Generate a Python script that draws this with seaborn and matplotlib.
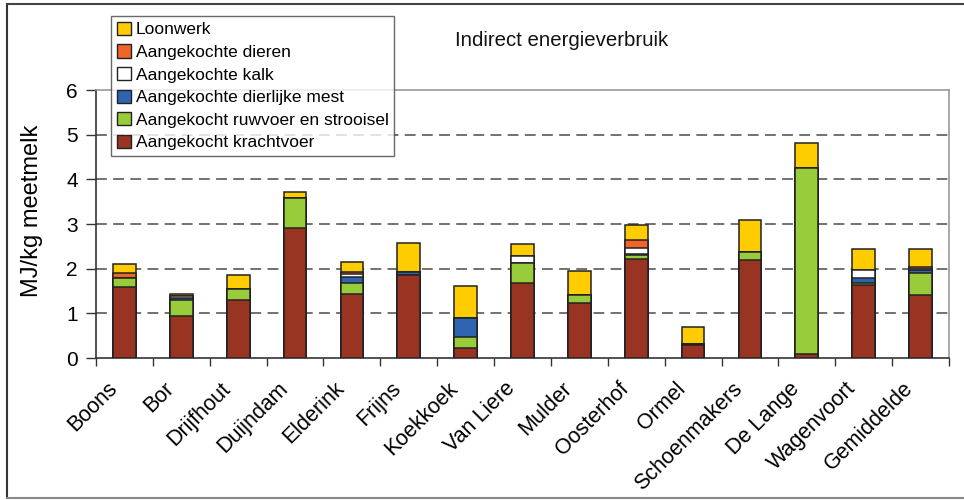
import numpy as np
import pandas as pd
import matplotlib
matplotlib.use("Agg")
import matplotlib.pyplot as plt
from matplotlib.patches import Patch
from matplotlib.lines import Line2D
from matplotlib.transforms import ScaledTranslation
import seaborn as sns

farms = ["Boons", "Bor", "Drijfhout", "Duijndam", "Elderink", "Frijns", "Koekkoek",
         "Van Liere", "Mulder", "Oosterhof", "Ormel", "Schoenmakers", "De Lange",
         "Wagenvoort", "Gemiddelde"]

krachtvoer = [1.60, 0.93, 1.30, 2.92, 1.43, 1.85, 0.22, 1.67, 1.24, 2.21, 0.28, 2.19, 0.08, 1.63, 1.40]
ruwvoer    = [0.18, 0.37, 0.24, 0.67, 0.24, 0.00, 0.25, 0.45, 0.16, 0.09, 0.00, 0.18, 4.18, 0.06, 0.51]
mest       = [0.00, 0.05, 0.00, 0.00, 0.14, 0.07, 0.43, 0.00, 0.00, 0.03, 0.03, 0.00, 0.00, 0.11, 0.05]
kalk       = [0.00, 0.03, 0.00, 0.00, 0.06, 0.00, 0.00, 0.16, 0.00, 0.14, 0.00, 0.00, 0.00, 0.18, 0.03]
dieren     = [0.13, 0.01, 0.00, 0.00, 0.06, 0.00, 0.00, 0.00, 0.00, 0.17, 0.00, 0.00, 0.00, 0.00, 0.04]
loonwerk   = [0.19, 0.04, 0.32, 0.13, 0.23, 0.66, 0.71, 0.28, 0.54, 0.34, 0.38, 0.73, 0.55, 0.46, 0.41]

labels = ["Loonwerk", "Aangekochte dieren", "Aangekochte kalk", "Aangekochte dierlijke mest",
          "Aangekocht ruwvoer en strooisel", "Aangekocht krachtvoer"]
colors = ["#FFCC00", "#F06428", "#FFFFFF", "#2E64B0", "#99CC3A", "#993322"]

# bottom-to-top stacking order
stack_bottom_up = [krachtvoer, ruwvoer, mest, kalk, dieren, loonwerk]
colors_bottom_up = colors[::-1]

cum = np.zeros(len(farms))
cums = []
for vals in stack_bottom_up:
    cum = cum + np.array(vals)
    cums.append(cum.copy())

plt.rcParams["font.family"] = ["Liberation Sans", "DejaVu Sans"]
fig = plt.figure(figsize=(9.64, 5.0), dpi=100)
ax = fig.add_axes([96/964, 1-358/500, (949-96)/964, (358-90)/500])

# draw cumulative totals from top layer down so each layer overdraws the previous
for i in range(len(cums)-1, -1, -1):
    d = pd.DataFrame({"farm": farms, "v": cums[i]})
    sns.barplot(data=d, x="farm", y="v", order=farms, color=colors_bottom_up[i],
                saturation=1, width=0.40, edgecolor="#222222", linewidth=1.1,
                ax=ax, errorbar=None, zorder=3)

ax.set_ylim(0, 6)
ax.set_xlim(-0.5, len(farms)-0.5)
ax.set_yticks(range(0, 7))
ax.set_yticklabels([str(v) for v in range(0, 7)], fontsize=15)
for y in range(1, 6):
    ax.axhline(y, color="#666666", lw=1.3, ls=(0, (6, 3.5)), zorder=1)
ax.set_xlabel("")
ax.set_ylabel("MJ/kg meetmelk", fontsize=17)
ax.yaxis.set_label_coords((43-96)/853, (358-211)/268)
ax.set_xticks(range(len(farms)))
ax.set_xticklabels(farms, rotation=45, ha="right", rotation_mode="anchor", fontsize=15.5)
ax.tick_params(axis="x", which="major", length=0, pad=8)
offset = ScaledTranslation(-18/100, -9/100, fig.dpi_scale_trans)
for lab in ax.get_xticklabels():
    lab.set_transform(lab.get_transform() + offset)
ax.set_xticks(np.arange(-0.5, len(farms), 1.0), minor=True)
ax.tick_params(axis="x", which="minor", length=6, width=1, color="#333333", direction="out")
ax.tick_params(axis="y", length=7, width=1, color="#333333", direction="out", pad=6)

for s in ["left", "bottom"]:
    ax.spines[s].set_color("#333333")
    ax.spines[s].set_linewidth(1.2)
for s in ["top", "right"]:
    ax.spines[s].set_color("#999999")
    ax.spines[s].set_linewidth(1.2)
ax.set_facecolor("white")

fig.text(562/964, 1-40/500, "Indirect energieverbruik", fontsize=14.7,
         ha="center", va="center", color="#111111")

handles = [Patch(facecolor=c, edgecolor="#222222", linewidth=1) for c in colors]
leg = fig.legend(handles, labels, loc="upper left", bbox_to_anchor=(111/964, 1-16/500),
                 fontsize=12.5, frameon=True, fancybox=False, borderaxespad=0,
                 handlelength=0.8, handleheight=0.8, handletextpad=0.3,
                 labelspacing=0.40, borderpad=0.33)
leg.get_frame().set_edgecolor("#444444")
leg.get_frame().set_linewidth(1)

# outer frame
fig.add_artist(Line2D([7/964, 7/964], [2/500, 1-4/500], transform=fig.transFigure, color="#333333", lw=1.5))
fig.add_artist(Line2D([7/964, 1], [1-4/500, 1-4/500], transform=fig.transFigure, color="#444444", lw=1.5))
fig.add_artist(Line2D([7/964, 1], [2/500, 2/500], transform=fig.transFigure, color="#888888", lw=1.5))

fig.savefig("out.png", dpi=100, facecolor="white")
